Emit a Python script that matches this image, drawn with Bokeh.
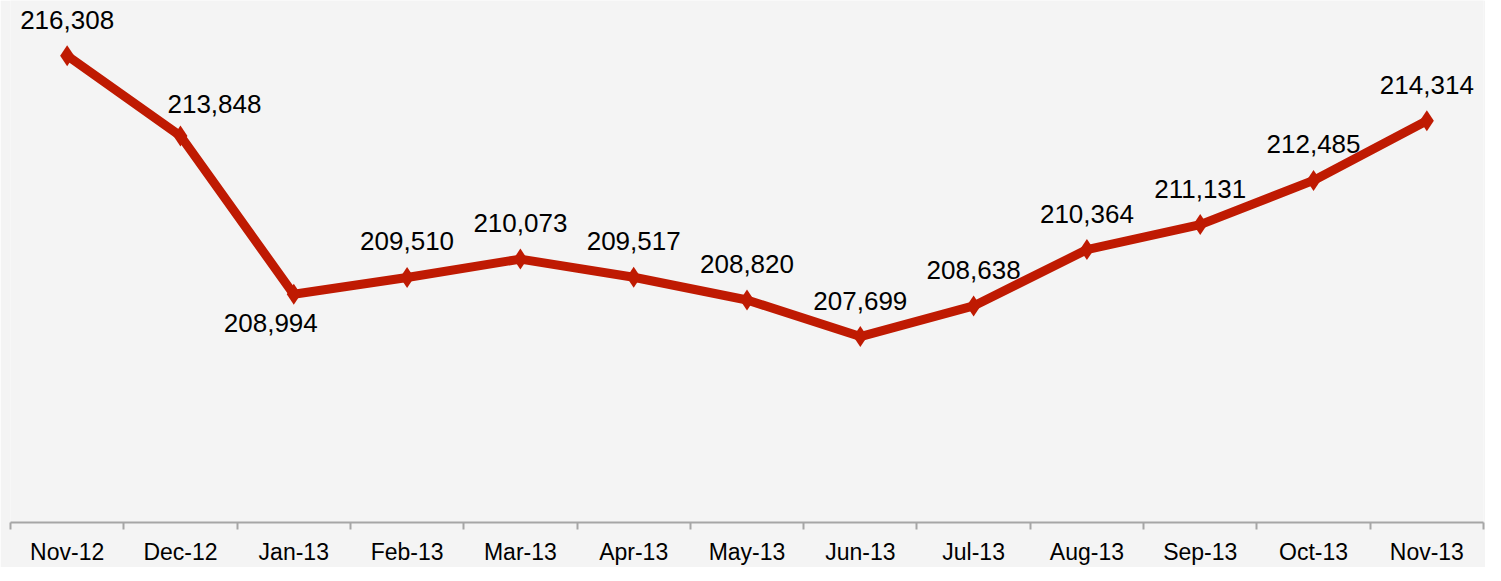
from bokeh.plotting import figure
from bokeh.models import ColumnDataSource, FixedTicker, Range1d, LinearAxis
from bokeh.core.properties import value
from bokeh.embed import file_html
from bokeh.resources import INLINE

# ---- data ----
months = ["Nov-12", "Dec-12", "Jan-13", "Feb-13", "Mar-13", "Apr-13", "May-13",
          "Jun-13", "Jul-13", "Aug-13", "Sep-13", "Oct-13", "Nov-13"]
values = [216308, 213848, 208994, 209510, 210073, 209517, 208820,
          207699, 208638, 210364, 211131, 212485, 214314]

# ---- label placement (style, screen pixels) ----
label_dx = [0, 34, -23, 0, 0, 0, 0, 0, 0, 0, 0, 0, 0]
label_dy = [-36, -32, 29, -36, -36, -36, -36, -36, -36, -36, -36, -36, -36]

xs = [i + 0.5 for i in range(len(months))]
labels = [f"{v:,}" for v in values]

src = ColumnDataSource(dict(x=xs, y=values, label=labels, dx=label_dx, dy=label_dy))

BG = "#F4F4F4"
RED = "#BF1A02"
AXIS = "#A6A6A6"
FONT = "Liberation Sans"

p = figure(frame_width=1473, frame_height=522,
           x_range=Range1d(0, len(months)), y_range=Range1d(202000, 218000),
           output_backend="svg", toolbar_location=None,
           x_axis_location=None, y_axis_location=None,
           min_border_left=10, min_border_right=2, min_border_top=0, min_border_bottom=0)
p.background_fill_color = BG
p.border_fill_color = BG
p.outline_line_color = None
p.xgrid.visible = False
p.ygrid.visible = False

xaxis = LinearAxis(ticker=FixedTicker(ticks=xs, minor_ticks=list(range(len(months) + 1))))
xaxis.major_label_overrides = {x: m for x, m in zip(xs, months)}
xaxis.axis_line_color = AXIS
xaxis.axis_line_width = 2
xaxis.major_tick_out = 0
xaxis.major_tick_in = 0
xaxis.minor_tick_out = 7
xaxis.minor_tick_in = 0
xaxis.minor_tick_line_color = AXIS
xaxis.minor_tick_line_width = 2
xaxis.major_label_standoff = 9
xaxis.major_label_text_font = FONT
xaxis.major_label_text_font_size = "23px"
xaxis.major_label_text_color = "#000000"
p.add_layout(xaxis, "below")

p.line("x", "y", source=src, line_color=RED, line_width=9, line_join="round")
p.scatter("x", "y", source=src, marker="diamond", size=21, fill_color=RED, line_color=None)
p.text("x", "y", text="label", source=src, x_offset="dx", y_offset="dy",
       text_align="center", text_baseline="middle",
       text_font=value(FONT), text_font_size="26px", text_color="#000000")

open("out.html", "w").write(file_html(p, INLINE))
